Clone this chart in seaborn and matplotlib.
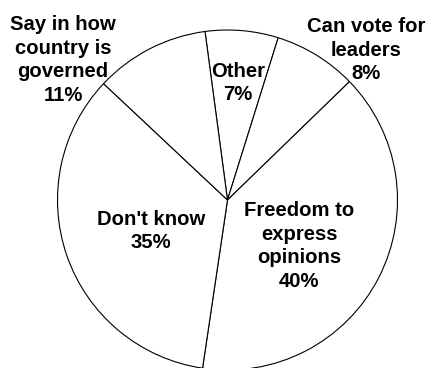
import matplotlib
matplotlib.use("Agg")
import matplotlib.pyplot as plt
import seaborn as sns

# Survey answers, in clockwise order starting just left of twelve o'clock
categories = [
    "Other",
    "Can vote for\nleaders",
    "Freedom to\nexpress\nopinions",
    "Don't know",
    "Say in how\ncountry is\ngoverned",
]
shares = [7, 8, 40, 35, 11]

# Label anchors in pixel space (x from left, y from top)
label_pos = [(238, 83), (366, 50), (299, 246), (151, 231), (63, 60)]

sns.set_theme(style="white")
plt.rcParams["font.family"] = ["Liberation Sans", "DejaVu Sans"]

W, H = 429, 368
fig = plt.figure(figsize=(W / 100, H / 100), dpi=100)
ax = fig.add_axes([0, 0, 1, 1])

cx, cy, r = 227.5, H - 200, 170
ax.pie(
    shares,
    startangle=97.6,
    counterclock=False,
    colors=["white"] * len(shares),
    wedgeprops=dict(edgecolor="black", linewidth=0.8),
    center=(cx, cy),
    radius=r,
)

for cat, val, (px, py) in zip(categories, shares, label_pos):
    ax.text(px, H - py, f"{cat}\n{val}%", ha="center", va="center",
            fontsize=14.6, fontweight="bold", color="black", linespacing=1.3)

ax.set_xlim(0, W)
ax.set_ylim(0, H)
ax.set_aspect("equal")
ax.axis("off")
fig.savefig("out.png", dpi=100, facecolor="white")
